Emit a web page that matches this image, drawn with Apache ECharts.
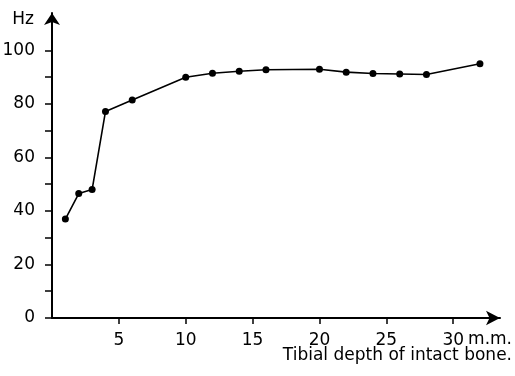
<!DOCTYPE html>
<html>
<head>
<meta charset="utf-8">
<script src="https://cdn.jsdelivr.net/npm/echarts@6/dist/echarts.min.js"></script>
<style>html,body{margin:0;padding:0;background:#fff;}#c{width:515px;height:376px;}</style>
</head>
<body>
<div id="c"></div>
<script>
const depth = [1, 2, 3, 4, 6, 10, 12, 14, 16, 20, 22, 24, 26, 28, 32];
const freq = [37, 46.5, 48, 77.2, 81.5, 90, 91.5, 92.2, 92.8, 93, 91.9, 91.4, 91.2, 91, 95];
const xTicks = [5, 10, 15, 20, 25, 30];
const yTicks = [0, 10, 20, 30, 40, 50, 60, 70, 80, 90, 100];
const yLabels = [0, 20, 40, 60, 80, 100];
const yName = 'Hz';
const xUnit = 'm.m.';
const xName = 'Tibial depth of intact bone.';

const font = 'DejaVu Sans';
const fs = 17;
const ink = '#000';
const chart = echarts.init(document.getElementById('c'), null, {renderer: 'canvas'});
chart.setOption({
  animation: false,
  backgroundColor: '#fff',
  grid: {left: 52, right: 15, top: 13, bottom: 58, containLabel: false, outerBoundsMode: 'none'},
  xAxis: {
    type: 'value', min: 0, max: 33.5,
    axisLine: {lineStyle: {color: ink, width: 2}, symbol: ['none', 'arrow'], symbolSize: [11, 14]},
    axisTick: {show: true, inside: false, length: 6, lineStyle: {color: ink, width: 1.5}, customValues: xTicks},
    axisLabel: {fontFamily: font, fontSize: fs, color: ink, margin: 14, customValues: xTicks},
    splitLine: {show: false}
  },
  yAxis: {
    type: 'value', min: 0, max: 114,
    name: yName, nameLocation: 'end', nameGap: -7,
    nameTextStyle: {fontFamily: font, fontSize: fs, color: ink, align: 'right', verticalAlign: 'middle', padding: [0, 18, 0, 0]},
    axisLine: {show: true, lineStyle: {color: ink, width: 2}, symbol: ['none', 'arrow'], symbolSize: [12, 12]},
    axisTick: {show: true, inside: false, length: 7, lineStyle: {color: ink, width: 1.5}, customValues: yTicks},
    axisLabel: {fontFamily: font, fontSize: fs, color: ink, margin: 17, customValues: yLabels},
    splitLine: {show: false}
  },
  graphic: [
    {type: 'text', right: 3, top: 331, style: {text: xUnit, font: fs + 'px "' + font + '"', fill: ink, textAlign: 'right'}},
    {type: 'text', right: 3, top: 347, style: {text: xName, font: fs + 'px "' + font + '"', fill: ink, textAlign: 'right'}}
  ],
  series: [{
    type: 'line',
    data: depth.map((d, i) => [d, freq[i]]),
    symbol: 'circle', symbolSize: 7,
    itemStyle: {color: ink},
    lineStyle: {color: ink, width: 1.6}
  }]
});
</script>
</body>
</html>
